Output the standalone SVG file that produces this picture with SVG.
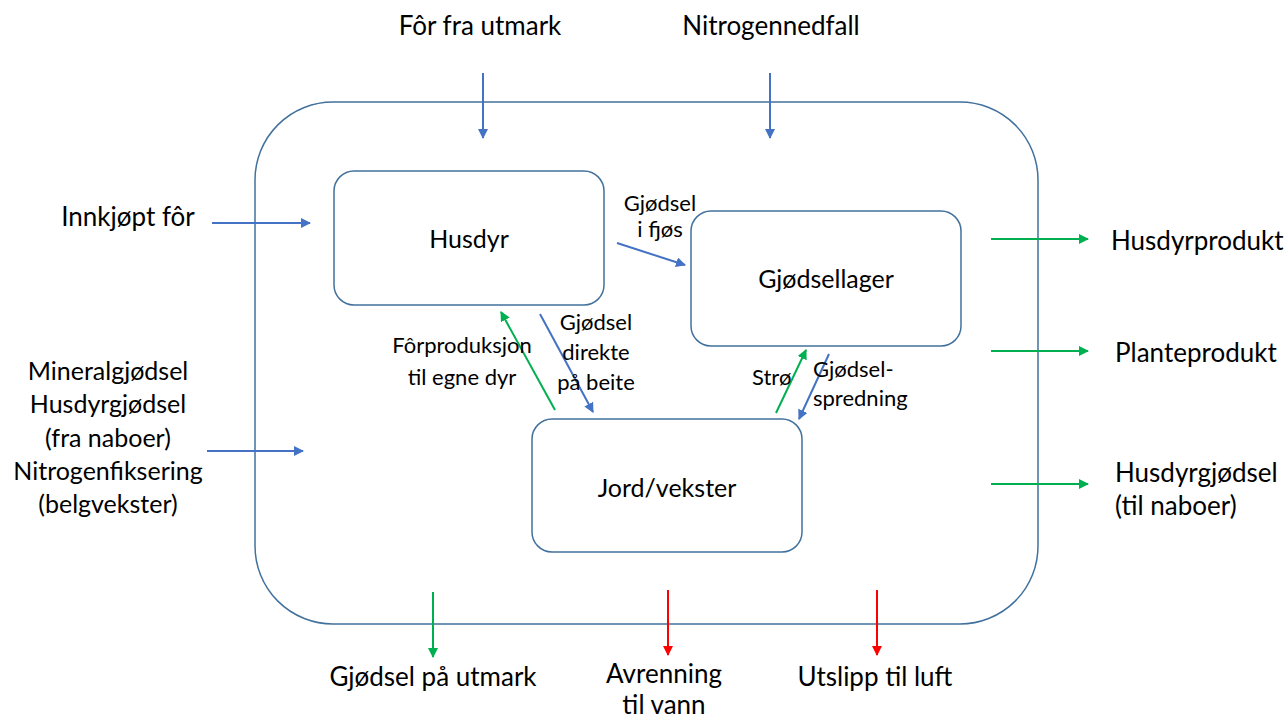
<svg xmlns="http://www.w3.org/2000/svg" width="1284" height="720" viewBox="0 0 1284 720">
<defs>
<marker id="ab" viewBox="0 0 10 10" refX="9" refY="5" markerWidth="5" markerHeight="5" orient="auto"><path d="M0,0 L10,5 L0,10 z" fill="#4472C4"/></marker>
<marker id="ag" viewBox="0 0 10 10" refX="9" refY="5" markerWidth="5" markerHeight="5" orient="auto"><path d="M0,0 L10,5 L0,10 z" fill="#00B050"/></marker>
<marker id="ar" viewBox="0 0 10 10" refX="9" refY="5" markerWidth="5" markerHeight="5" orient="auto"><path d="M0,0 L10,5 L0,10 z" fill="#FF0000"/></marker>
</defs>
<style>
text{font-family:Lato,"Liberation Sans",sans-serif;fill:#000;}
.big{font-size:26px;}
.lft{font-size:25px;}
.mid{font-size:25px;}
.sm{font-size:22px;}
.box{fill:#fff;stroke:#41719C;stroke-width:1.5;}
.b{stroke:#4472C4;stroke-width:2;fill:none;marker-end:url(#ab);}
.g{stroke:#00B050;stroke-width:2;fill:none;marker-end:url(#ag);}
.r{stroke:#FF0000;stroke-width:2;fill:none;marker-end:url(#ar);}
</style>
<rect width="1284" height="720" fill="#fff"/>
<g id="farm"><rect x="255" y="102" width="783" height="522" rx="78" ry="78" fill="none" stroke="#41719C" stroke-width="1.5"/></g>
<g id="husdyr"><rect class="box" x="334" y="171" width="270" height="134" rx="20"/><text class="mid" x="469" y="248" text-anchor="middle">Husdyr</text></g>
<g id="gjodsellager"><rect class="box" x="691" y="211" width="270" height="135" rx="20"/><text class="mid" x="826" y="288" text-anchor="middle">Gjødsellager</text></g>
<g id="jord"><rect class="box" x="532" y="419" width="270" height="133" rx="20"/><text class="mid" x="667" y="497" text-anchor="middle">Jord/vekster</text></g>
<g id="connectors">
<line class="b" x1="483" y1="73" x2="483" y2="138"/>
<line class="b" x1="770" y1="73" x2="770" y2="138"/>
<line class="b" x1="212" y1="223" x2="310" y2="223"/>
<line class="b" x1="207" y1="451" x2="303" y2="451"/>
<line class="g" x1="991" y1="239" x2="1088" y2="239"/>
<line class="g" x1="991" y1="351" x2="1088" y2="351"/>
<line class="g" x1="991" y1="484" x2="1088" y2="484"/>
<line class="g" x1="433" y1="592" x2="433" y2="657"/>
<line class="r" x1="668" y1="590" x2="668" y2="655"/>
<line class="r" x1="877" y1="590" x2="877" y2="655"/>
<line class="b" x1="617" y1="243" x2="685" y2="265"/>
<line class="g" x1="555" y1="410" x2="501" y2="312"/>
<line class="b" x1="540" y1="314" x2="593" y2="412"/>
<line class="g" x1="776" y1="413" x2="806" y2="350"/>
<line class="b" x1="829" y1="354" x2="799" y2="419"/>
</g>
<g id="labels">
<text class="big" x="480" y="35" text-anchor="middle">Fôr fra utmark</text>
<text class="big" x="771" y="35" text-anchor="middle">Nitrogennedfall</text>
<text class="big" x="128" y="226" text-anchor="middle">Innkjøpt fôr</text>
<text class="lft" text-anchor="middle"><tspan x="108" y="380">Mineralgjødsel</tspan><tspan x="108" y="413">Husdyrgjødsel</tspan><tspan x="108" y="447">(fra naboer)</tspan><tspan x="108" y="480">Nitrogenfiksering</tspan><tspan x="108" y="513">(belgvekster)</tspan></text>
<text class="big" x="1111" y="250">Husdyrprodukt</text>
<text class="big" x="1115" y="362">Planteprodukt</text>
<text class="big" x="1115" y="482">Husdyrgjødsel</text>
<text class="big" x="1115" y="515">(til naboer)</text>
<text class="big" x="433" y="686" text-anchor="middle">Gjødsel på utmark</text>
<text class="big" text-anchor="middle"><tspan x="664" y="683">Avrenning</tspan><tspan x="664" y="714">til vann</tspan></text>
<text class="big" x="875" y="686" text-anchor="middle">Utslipp til luft</text>
<text class="sm" text-anchor="middle"><tspan x="660" y="211">Gjødsel</tspan><tspan x="660" y="237">i fjøs</tspan></text>
<text class="sm" text-anchor="middle"><tspan x="462" y="353">Fôrproduksjon</tspan><tspan x="462" y="385">til egne dyr</tspan></text>
<text class="sm" text-anchor="middle"><tspan x="596" y="330">Gjødsel</tspan><tspan x="596" y="360">direkte</tspan><tspan x="596" y="390">på beite</tspan></text>
<text class="sm" x="752" y="385">Strø</text>
<text class="sm"><tspan x="813" y="377">Gjødsel-</tspan><tspan x="813" y="406">spredning</tspan></text>
</g>
</svg>
